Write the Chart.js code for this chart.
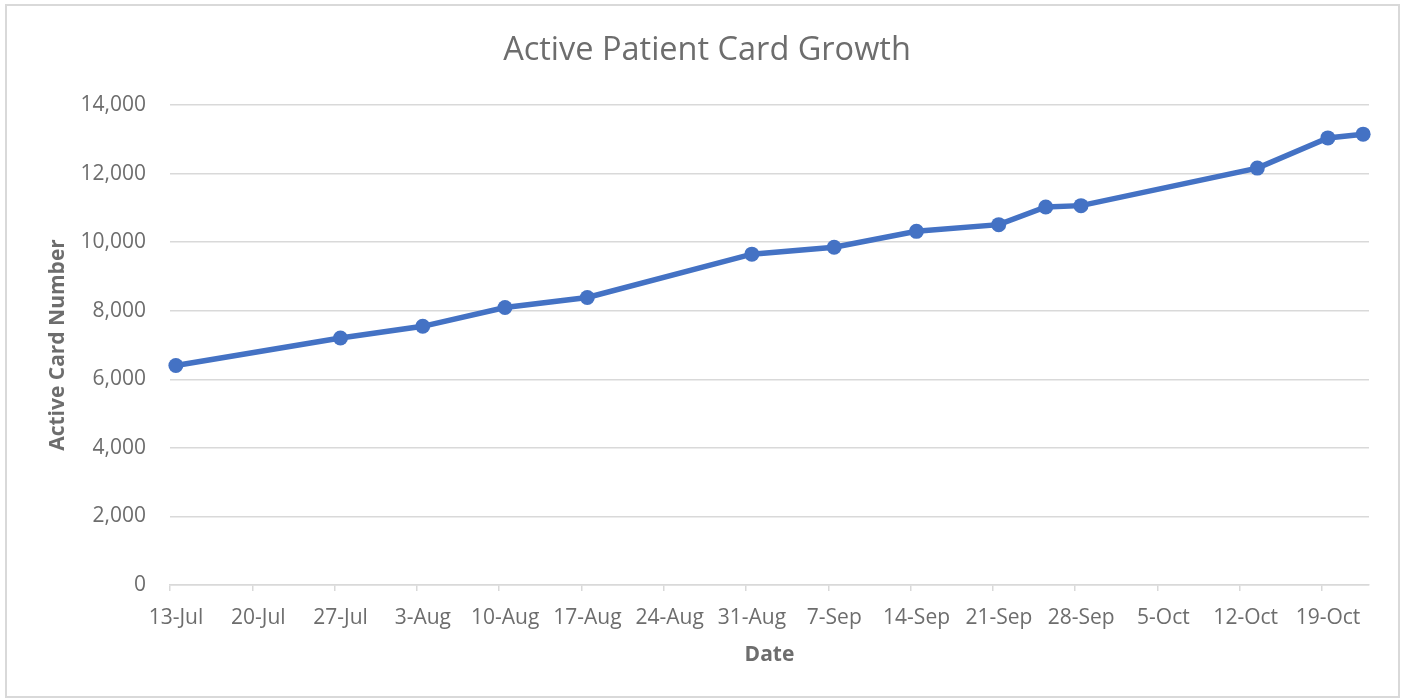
<!DOCTYPE html>
<html lang="en">
<head>
  <meta charset="UTF-8" />
  <title>Active Patient Card Growth</title>
  <script src="https://cdn.jsdelivr.net/npm/chart.js"></script>
  <style>
    html, body { margin: 0; padding: 0; background: #fff; }
    .frame {
      position: absolute;
      left: 5px; top: 4px;
      width: 1391px; height: 690px;
      border: 2px solid #d9d9d9;
    }
    .frame canvas { display: block; }
  </style>
</head>
<body>
  <div class="frame">
    <canvas id="cardChart" width="1391" height="690"></canvas>
  </div>

  <script>
    // readings taken off the chart
    const startDate = '2020-07-13';
    const endDay = 102; // axis runs to the end of 22-Oct
    const dates = [
      '2020-07-13', '2020-07-27', '2020-08-03', '2020-08-10', '2020-08-17',
      '2020-08-31', '2020-09-07', '2020-09-14', '2020-09-21', '2020-09-25',
      '2020-09-28', '2020-10-13', '2020-10-19', '2020-10-22'
    ];
    const activeCards = [
      6400, 7205, 7545, 8095, 8385,
      9650, 9850, 10315, 10510, 11025,
      11065, 12160, 13040, 13150
    ];
    const monthNames = ['Jan', 'Feb', 'Mar', 'Apr', 'May', 'Jun', 'Jul', 'Aug', 'Sep', 'Oct', 'Nov', 'Dec'];

    const DAY = 24 * 3600 * 1000;
    const t0 = Date.parse(startDate + 'T00:00:00Z');
    const dayOf = s => Math.round((Date.parse(s + 'T00:00:00Z') - t0) / DAY);
    const dayLabel = v => {
      const d = new Date(t0 + v * DAY);
      return d.getUTCDate() + '-' + monthNames[d.getUTCMonth()];
    };

    // points sit in the middle of their day
    const points = dates.map((s, i) => ({ x: dayOf(s) + 0.5, y: activeCards[i] }));

    const grey = '#6d6d6d';
    const gridGrey = '#d9d9d9';
    const FONT = "'Open Sans', sans-serif";

    new Chart(document.getElementById('cardChart'), {
      type: 'line',
      data: {
        datasets: [{
          label: 'Active Card Number',
          data: points,
          borderColor: '#4472C4',
          backgroundColor: '#4472C4',
          borderWidth: 5.5,
          pointRadius: 7.5,
          pointHoverRadius: 7.5,
          pointBorderWidth: 0,
          tension: 0,
          clip: false
        }]
      },
      options: {
        responsive: false,
        animation: false,
        layout: { padding: { left: 38, right: 29, top: 0, bottom: 27 } },
        plugins: {
          legend: { display: false },
          tooltip: { enabled: false },
          title: {
            display: true,
            text: 'Active Patient Card Growth',
            color: grey,
            font: { family: FONT, size: 32.5, weight: 'normal' },
            padding: { top: 25, bottom: 35 }
          }
        },
        scales: {
          x: {
            type: 'linear',
            min: 0,
            max: endDay,
            grid: {
              drawOnChartArea: false,
              drawTicks: true,
              tickLength: 6,
              color: gridGrey,
              lineWidth: 1.5
            },
            border: { color: gridGrey, width: 1.5 },
            ticks: {
              stepSize: 7,
              includeBounds: false,
              autoSkip: false,
              maxRotation: 0,
              labelOffset: 6,
              padding: 14,
              color: grey,
              font: { family: FONT, size: 21 },
              callback: v => dayLabel(v)
            },
            title: {
              display: true,
              text: 'Date',
              color: grey,
              font: { family: FONT, size: 21, weight: 'bold' },
              padding: { top: 0, bottom: 1 }
            },
            afterFit: scale => { scale.height = 84; }
          },
          y: {
            min: 0,
            max: 14000,
            grid: { color: gridGrey, lineWidth: 1.5, drawTicks: false },
            border: { display: false },
            ticks: {
              stepSize: 2000,
              padding: 24,
              color: grey,
              font: { family: FONT, size: 21 },
              callback: v => v.toLocaleString('en-US')
            },
            title: {
              display: true,
              text: 'Active Card Number',
              color: grey,
              font: { family: FONT, size: 21, weight: 'bold' },
              padding: { top: 0, bottom: 0 }
            },
            afterFit: scale => { scale.width = 125; }
          }
        }
      }
    });
  </script>
</body>
</html>
